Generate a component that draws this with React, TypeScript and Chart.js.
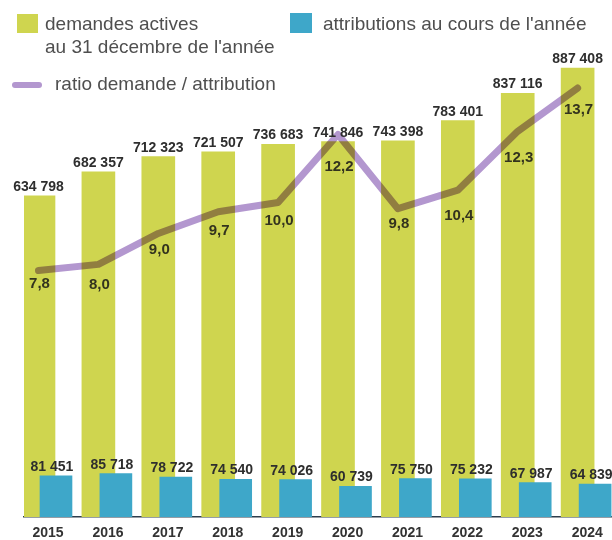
import React, { useEffect, useRef } from "react";
import { Chart, registerables } from "chart.js";

Chart.register(...registerables);

const years = ["2015", "2016", "2017", "2018", "2019", "2020", "2021", "2022", "2023", "2024"];
const demandes = [634798, 682357, 712323, 721507, 736683, 741846, 743398, 783401, 837116, 887408];
const attributions = [81451, 85718, 78722, 74540, 74026, 60739, 75750, 75232, 67987, 64839];
const ratios = [7.8, 8.0, 9.0, 9.7, 10.0, 12.2, 9.8, 10.4, 12.3, 13.7];

// vertical offset (px) of each ratio label below the line
const ratioLabelDy = [13, 20, 16, 19, 18, 32, 15, 26, 26, 22];

const YELLOW = "#cfd54f";
const BLUE = "#3ea7c9";
const PURPLE = "#b397cf";
const LABEL_FONT = "'Liberation Sans', Arial, sans-serif";

const BLUE_SHIFT = 0.292;
const TICK_SHIFT = 0.16;

const fmtInt = (v: number) => String(v).replace(/\B(?=(\d{3})+(?!\d))/g, " ");
const fmtRatio = (v: number) => v.toFixed(1).replace(".", ",");

const multiplyLine = {
  id: "multiplyLine",
  beforeDatasetDraw(chart: any, args: any) {
    if (args.meta.type === "line") {
      chart.ctx.save();
      chart.ctx.globalCompositeOperation = "multiply";
    }
  },
  afterDatasetDraw(chart: any, args: any) {
    if (args.meta.type === "line") {
      chart.ctx.restore();
    }
  },
};

const valueLabels = {
  id: "valueLabels",
  afterDatasetsDraw(chart: any) {
    const ctx = chart.ctx;
    ctx.save();
    ctx.fillStyle = "#2e2e2e";
    ctx.textAlign = "center";
    // demandes
    const yMeta = chart.getDatasetMeta(1);
    ctx.font = `bold 14px ${LABEL_FONT}`;
    ctx.textBaseline = "alphabetic";
    yMeta.data.forEach((el: any, i: number) => {
      ctx.fillText(fmtInt(demandes[i]), el.x, el.y - 5);
    });
    // attributions
    const bMeta = chart.getDatasetMeta(2);
    bMeta.data.forEach((el: any, i: number) => {
      ctx.fillText(fmtInt(attributions[i]), el.x - 4, el.y - 5);
    });
    // ratios
    const lMeta = chart.getDatasetMeta(0);
    ctx.font = `bold 15px ${LABEL_FONT}`;
    ctx.textBaseline = "middle";
    ctx.fillStyle = "#33331e";
    lMeta.data.forEach((el: any, i: number) => {
      ctx.fillText(fmtRatio(ratios[i]), el.x + 1, el.y + ratioLabelDy[i]);
    });
    // year labels on the x axis
    const xs = chart.scales.x;
    ctx.font = `bold 14px ${LABEL_FONT}`;
    ctx.fillStyle = "#333333";
    ctx.textBaseline = "middle";
    years.forEach((yr, i) => {
      ctx.fillText(yr, xs.getPixelForValue(i + TICK_SHIFT), chart.chartArea.bottom + 16);
    });
    ctx.restore();
  },
};

export default function App() {
  const canvasRef = useRef<HTMLCanvasElement | null>(null);

  useEffect(() => {
    if (!canvasRef.current) return;
    const chart = new Chart(canvasRef.current, {
      type: "bar",
      data: {
        datasets: [
          {
            type: "line",
            label: "ratio demande / attribution",
            data: ratios.map((r, i) => ({ x: i, y: r })),
            yAxisID: "y2",
            xAxisID: "x",
            borderColor: PURPLE,
            borderWidth: 7,
            borderCapStyle: "round",
            borderJoinStyle: "round",
            pointRadius: 0,
            tension: 0,
            order: 0,
          } as any,
          {
            type: "bar",
            label: "demandes actives au 31 décembre de l'année",
            data: demandes.map((v, i) => ({ x: i, y: v })),
            backgroundColor: YELLOW,
            barThickness: 33,
            grouped: false,
            yAxisID: "y",
            xAxisID: "x",
            order: 2,
          } as any,
          {
            type: "bar",
            label: "attributions au cours de l'année",
            data: attributions.map((v, i) => ({ x: i + BLUE_SHIFT, y: v })),
            backgroundColor: BLUE,
            barThickness: 32,
            grouped: false,
            yAxisID: "y",
            xAxisID: "x",
            order: 1,
          } as any,
        ],
      },
      options: {
        responsive: false,
        animation: false,
        devicePixelRatio: 1,
        layout: { padding: { top: 40, left: 24, right: 0, bottom: 23 } },
        plugins: {
          legend: { display: false },
          tooltip: { enabled: false },
        },
        scales: {
          x: {
            type: "linear",
            offset: false,
            min: -0.242,
            max: 9.574,
            grid: { display: false, drawTicks: false },
            border: { display: true, color: "#2f3d4c", width: 1.5 },
            ticks: { display: false },
          },
          y: {
            type: "linear",
            display: false,
            min: 0,
            max: 942744,
          },
          y2: {
            type: "linear",
            display: false,
            min: -0.168,
            max: 15.254,
          },
        },
      } as any,
      plugins: [multiplyLine, valueLabels],
    });
    return () => chart.destroy();
  }, []);

  const legendText: React.CSSProperties = {
    position: "absolute",
    fontFamily: LABEL_FONT,
    fontSize: 19,
    lineHeight: "23px",
    color: "#4f4f4f",
    whiteSpace: "nowrap",
  };

  return (
    <div
      style={{
        position: "fixed",
        left: 0,
        top: 0,
        width: 612,
        height: 540,
        background: "#ffffff",
        overflow: "hidden",
      }}
    >
      <canvas ref={canvasRef} width={612} height={540} style={{ position: "absolute", left: 0, top: 0 }} />
      <div style={{ position: "absolute", left: 17, top: 14, width: 21, height: 19, background: YELLOW }} />
      <div style={{ ...legendText, left: 45, top: 12 }}>
        demandes actives
        <br />
        au 31 décembre de l'année
      </div>
      <div style={{ position: "absolute", left: 290, top: 13, width: 22, height: 20, background: BLUE }} />
      <div style={{ ...legendText, left: 323, top: 12 }}>attributions au cours de l'année</div>
      <div
        style={{
          position: "absolute",
          left: 12,
          top: 82,
          width: 30,
          height: 6,
          borderRadius: 3,
          background: PURPLE,
        }}
      />
      <div style={{ ...legendText, left: 55, top: 72 }}>ratio demande / attribution</div>
    </div>
  );
}
